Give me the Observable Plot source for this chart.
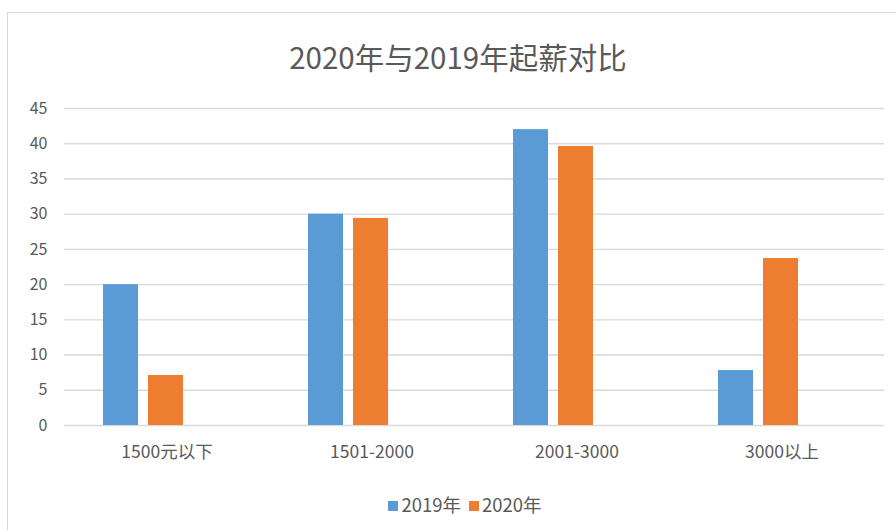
<!DOCTYPE html>
<html>
<head>
<meta charset="utf-8">
<script src="https://cdn.jsdelivr.net/npm/d3@7"></script>
<script src="https://cdn.jsdelivr.net/npm/@observablehq/plot@0.6"></script>
<style>
  html, body { margin: 0; padding: 0; background: #fff; width: 896px; height: 530px; overflow: hidden; position: relative; }
  body { font-family: "Noto Sans CJK SC", "Noto Sans", sans-serif; color: #595959; }
  #frame { position: absolute; left: 7px; top: 12px; width: 1000px; height: 1000px; border: 1.5px solid #d9d9d9; box-sizing: border-box; }
  #title { position: absolute; left: 158px; width: 600px; top: 36px; text-align: center; font-size: 29.5px; color: #595959; line-height: 40px; }
  #chart { position: absolute; left: 0; top: 0; }
  #legend { position: absolute; left: 0; width: 930px; top: 491px; text-align: center; font-size: 18.5px; line-height: 26px; }
  #legend span.item { display: inline-block; margin: 0 4px; }
  #legend i { display: inline-block; width: 10px; height: 10px; margin-right: 3px; vertical-align: 1px; }
</style>
</head>
<body>
<div id="frame"></div>
<div id="title">2020年与2019年起薪对比</div>
<div id="chart"></div>
<div id="legend"></div>
<script>
const categories = ["1500元以下", "1501-2000", "2001-3000", "3000以上"];
const series = ["2019年", "2020年"];
const values2019 = [20, 30, 42, 7.8];
const values2020 = [7.1, 29.4, 39.6, 23.7];
const colors = ["#5B9BD5", "#ED7D31"];
const yTicks = [0, 5, 10, 15, 20, 25, 30, 35, 40, 45];

const data = categories.flatMap((c, i) => [
  {cat: c, series: series[0], value: values2019[i]},
  {cat: c, series: series[1], value: values2020[i]}
]);

const chart = Plot.plot({
  width: 896,
  height: 480,
  marginLeft: 62,
  marginRight: 11,
  marginTop: 108,
  marginBottom: 55,
  style: {fontFamily: '"Noto Sans CJK SC", "Noto Sans", sans-serif', fontSize: "16px", color: "#595959", background: "transparent"},
  fx: {domain: categories, padding: 0, label: null},
  x: {domain: series, paddingInner: 0.217, paddingOuter: 1.345, align: 0.31, axis: null},
  y: {domain: [0, 45], ticks: yTicks, tickSize: 0, tickPadding: 17, label: null},
  color: {domain: series, range: colors},
  marks: [
    Plot.ruleY(yTicks, {stroke: "#d9d9d9", strokeWidth: 1.4}),
    Plot.barY(data, {fx: "cat", x: "series", y: "value", fill: "series"}),
    Plot.axisFx({anchor: "bottom", tickSize: 0, tickPadding: 20, fontSize: 17.5, label: null})
  ]
});
document.getElementById("chart").appendChild(chart);

const legend = document.getElementById("legend");
series.forEach((s, i) => {
  const item = document.createElement("span");
  item.className = "item";
  const sw = document.createElement("i");
  sw.style.background = colors[i];
  item.appendChild(sw);
  item.appendChild(document.createTextNode(s));
  legend.appendChild(item);
});
</script>
</body>
</html>
